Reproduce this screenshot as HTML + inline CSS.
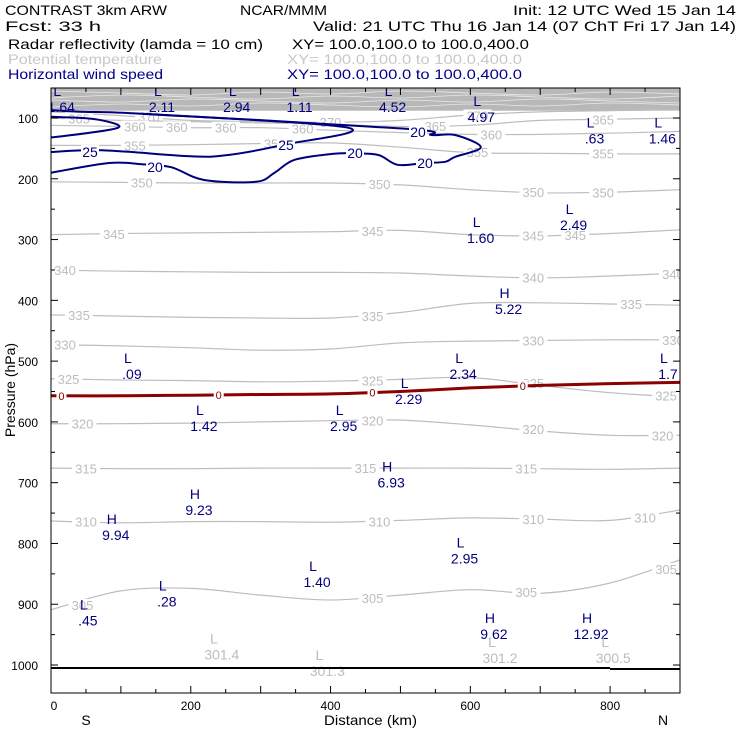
<!DOCTYPE html>
<html><head><meta charset="utf-8"><style>
html,body{margin:0;padding:0;background:#fff;width:740px;height:740px;overflow:hidden}
svg text{font-family:"Liberation Sans",sans-serif}
</style></head><body>
<svg id="c" width="740" height="740" viewBox="0 0 740 740" xmlns="http://www.w3.org/2000/svg">
<g font-size="14" lengthAdjust="spacingAndGlyphs">
<text x="5" y="15" textLength="162" lengthAdjust="spacingAndGlyphs">CONTRAST  3km ARW</text>
<text x="240" y="15" textLength="87" lengthAdjust="spacingAndGlyphs">NCAR/MMM</text>
<text x="513" y="15" textLength="223" lengthAdjust="spacingAndGlyphs">Init: 12 UTC Wed 15 Jan 14</text>
<text x="5" y="31" textLength="96" lengthAdjust="spacingAndGlyphs">Fcst:    33 h</text>
<text x="313" y="31" textLength="423" lengthAdjust="spacingAndGlyphs">Valid: 21 UTC Thu 16 Jan 14 (07 ChT Fri 17 Jan 14)</text>
<text x="8" y="49" textLength="255" lengthAdjust="spacingAndGlyphs">Radar reflectivity (lamda = 10 cm)</text>
<text x="292" y="49" textLength="237" lengthAdjust="spacingAndGlyphs">XY= 100.0,100.0 to 100.0,400.0</text>
<text x="8" y="64" textLength="154" lengthAdjust="spacingAndGlyphs" fill="#c8c8c8">Potential temperature</text>
<text x="287" y="64" textLength="235" lengthAdjust="spacingAndGlyphs" fill="#c8c8c8">XY= 100.0,100.0 to 100.0,400.0</text>
<text x="8" y="79" textLength="155" lengthAdjust="spacingAndGlyphs" fill="#00008b">Horizontal wind speed</text>
<text x="287" y="79" textLength="235" lengthAdjust="spacingAndGlyphs" fill="#00008b">XY= 100.0,100.0 to 100.0,400.0</text>
</g>
<defs><clipPath id="pc"><rect x="51" y="88" width="629" height="605"/></clipPath></defs>
<g id="plot" clip-path="url(#pc)"></g>
<g id="axes"></g>
</svg>
<script>
const dists=[0,100,200,300,400,500,600,700,800,900];
const thetaLevels=[370,365,360,355,350,345,340,335,330,325,320,315,310,305];
const th370=[90,96,104,106,107,104,95,90,88,86];
const th365=[100,104,106,108,110,114,112,104,102,100];
const th360=[112,114,116,116,120,124,127,127,125,122];
const th355=[145,145,144,142,141,148,157,158,159,159];
const th350=[205,206,207,207,207,210,218,223,222,218];
const th345=[292,290,289,288,287,285,292,294,290,284];
const th340=[350,352,353,354,354,355,360,363,360,355];
const th335=[424,426,428,429,429,420,405,404,406,408];
const th330=[473,475,478,482,480,470,467,466,465,465];
const th325=[529,531,532,534,533,530,527,540,552,559];
const th320=[603,603,602,600,598,597,605,615,622,622];
const th315=[676,677,677,676,676,676,676,677,678,676];
const th310=[763,766,764,764,765,762,758,760,762,745];
const th305=[909,878,874,885,893,885,876,882,865,827];
const thetaRows=[th370,th365,th360,th355,th350,th345,th340,th335,th330,th325,th320,th315,th310,th305];
const reflect0=[557,557,556,555,554,550,544,540,537,535];
const wind20Km=[0,83,130,172,219,293,320,348,402,435,469,496,534,564,578,615,578,544,511,130,49,0];
const wind20P=[190,174,176,181,202,205,190,169,159,158,161,177,174,172,164,148,128,128,118,93,90,87];
const wind25Km=[0,73,199,252,333,425,130];
const wind25P=[156,153,163,161,144,116,93];
const wind25bKm=[0,63,96,9,0];
const wind25bP=[98,102,116,131,131];
const yTicks=[100,200,300,400,500,600,700,800,900,1000];
const xTicks=[0,200,400,600,800];
const windExtType=["L","L","L","L","L","L","L","L","L","L","H","L","L","L","L","L","L","H","H","H","L","L","L","L","H","H"];
const windExtKm=[9,153,260,350,483,610,772,869,609,742,649,110,584,877,213,413,506,481,206,87,586,375,160,47,628,767];
const windExtP=[64,64,64,64,64,80,116,116,279,258,396,503,503,503,589,589,544,682,727,768,807,845,877,909,931,931];
const windExtVal=["1.64","2.11","2.94","1.11","4.52","4.97",".63","1.46","1.60","2.49","5.22",".09","2.34","1.7","1.42","2.95","2.29","6.93","9.23","9.94","2.95","1.40",".28",".45","9.62","12.92"];
const thExtKm=[233,384,631,793];
const thExtP=[965,992,970,970];
const thExtVal=["301.4","301.3","301.2","300.5"];

const NS="http://www.w3.org/2000/svg";
const X0=51,X1=680;
const xs=k=>X0+k*(X1-X0)/900;
const ys=p=>118+(p-100)*0.6078;
const plot=document.getElementById('plot'),axes=document.getElementById('axes');
function mk(tag,attrs,parent){const e=document.createElementNS(NS,tag);for(const k in attrs)e.setAttribute(k,attrs[k]);parent.appendChild(e);return e;}
function smooth(pts){let d="M"+pts[0][0]+","+pts[0][1];for(let i=0;i<pts.length-1;i++){const p0=pts[Math.max(0,i-1)],p1=pts[i],p2=pts[i+1],p3=pts[Math.min(pts.length-1,i+2)];const c1=[p1[0]+(p2[0]-p0[0])/6,p1[1]+(p2[1]-p0[1])/6],c2=[p2[0]-(p3[0]-p1[0])/6,p2[1]-(p3[1]-p1[1])/6];d+=" C"+c1[0].toFixed(1)+","+c1[1].toFixed(1)+" "+c2[0].toFixed(1)+","+c2[1].toFixed(1)+" "+p2[0].toFixed(1)+","+p2[1].toFixed(1);}return d;}
function interp(arr,k){const i=Math.min(8,Math.floor(k/100));const t=(k-dists[i])/100;return arr[i]+(arr[i+1]-arr[i])*t;}

const band=mk('rect',{x:51,y:88,width:629,height:ys(88)-88,fill:'#b8b8b8'},plot);


for(let i=0;i<4;i++){const l=mk('path',{d:smooth(dists.map((k,j)=>[xs(k),93+i*4+((j*7+i*3)%5)-2])),fill:'none',stroke:'#e8e8e8','stroke-width':0.8},plot);

}

const labKm=[[120,380,590],[20,530,770],[100,160,230,340,610],[100,300,590,770],[110,450,670,770],[70,440,670,730],[0,670,870],[20,440,810],[0,670,870],[5,440,670,860],[25,440,670,855],[30,430,660],[30,450,670,830],[25,440,660,860]];
thetaRows.forEach((row,r)=>{
  const pts=dists.map((k,i)=>[xs(k),ys(row[i])]);
  const l=mk('path',{d:smooth(pts),fill:'none',stroke:'#bdbdbd','stroke-width':1.2},plot);
  
  
  labKm[r].forEach(k=>{
    const x=xs(k)+14,y=ys(interp(row,k));
    const bg=mk('rect',{x:x-14,y:y-6,width:28,height:12,fill:'#fff'},plot);
    
    
    const t=mk('text',{x:x,y:y+5,'text-anchor':'middle','font-size':13,fill:'#bdbdbd'},plot);
    t.textContent=thetaLevels[r];
    
    
  });
});

const rl=mk('path',{d:smooth(dists.map((k,i)=>[xs(k),ys(reflect0[i])])),fill:'none',stroke:'#8b0000','stroke-width':3},plot);


[15,240,460,675].forEach(k=>{const x=xs(k),y=ys(interp(reflect0,k));
 const bg=mk('rect',{x:x-5,y:y-6,width:10,height:12,fill:'#fff'},plot);
 
 
 const t=mk('text',{x:x,y:y+4,'text-anchor':'middle','font-size':11,fill:'#8b0000'},plot);
 t.textContent='0';
 
 });

function windLine(km,p,name){const pts=km.map((k,i)=>[xs(k),ys(p[i])]);const l=mk('path',{d:smooth(pts),fill:'none',stroke:'#00007f','stroke-width':2},plot);

}
windLine(wind20Km,wind20P,'wind-20-contour');
windLine(wind25Km,wind25P,'wind-25-contour');
windLine(wind25bKm,wind25bP,'wind-25-contour-small');
[[155,167,'20'],[355,153,'20'],[425,163,'20'],[418,132,'20'],[90,152,'25'],[286,145,'25']].forEach(a=>{
 const bg=mk('rect',{x:a[0]-9,y:a[1]-7,width:18,height:14,fill:'#fff'},plot);
 
 
 const t=mk('text',{x:a[0],y:a[1]+5,'text-anchor':'middle','font-size':14,fill:'#00007f'},plot);
 t.textContent=a[2];
 
 });

windExtType.forEach((tp,i)=>{const x=xs(windExtKm[i]),y=ys(windExtP[i]);
 const a=mk('text',{x:x,y:y,'text-anchor':'middle','font-size':14,fill:'#00007f'},plot);a.textContent=tp;
 
 
 const b=mk('text',{x:x+4,y:y+16,'text-anchor':'middle','font-size':14,fill:'#00007f'},plot);b.textContent=windExtVal[i];
 
 });
thExtKm.forEach((k,i)=>{const x=xs(k),y=ys(thExtP[i]);
 const a=mk('text',{x:x,y:y,'text-anchor':'middle','font-size':14,fill:'#bdbdbd'},plot);a.textContent='L';
 
 
 const b=mk('text',{x:x+8,y:y+16,'text-anchor':'middle','font-size':14,fill:'#bdbdbd'},plot);b.textContent=thExtVal[i];
 
 });

const g1=mk('line',{x1:51,y1:668,x2:610,y2:668,stroke:'#000','stroke-width':2},plot);


const g2=mk('line',{x1:610,y1:669,x2:680,y2:669,stroke:'#000','stroke-width':2},plot);



const fr=mk('rect',{x:51,y:88,width:629,height:605,fill:'none',stroke:'#000','stroke-width':1},axes);


for(let p=100;p<=1050;p+=50){const y=ys(p);if(y>693)break;
 const a=mk('line',{x1:51,y1:y,x2:p%100?55:58,y2:y,stroke:'#000'},axes);
 
 
 const b=mk('line',{x1:680,y1:y,x2:p%100?676:673,y2:y,stroke:'#000'},axes);
 
 }
yTicks.forEach(p=>{const t=mk('text',{x:38,y:ys(p)+5,'text-anchor':'end','font-size':12},axes);t.textContent=p;
 
 });
for(let k=0;k<=900;k+=50){const x=xs(k);
 const a=mk('line',{x1:x,y1:693,x2:x,y2:k%100?689:686,stroke:'#000'},axes);
 
 
 const b=mk('line',{x1:x,y1:88,x2:x,y2:k%100?92:95,stroke:'#000'},axes);
 
 }
xTicks.forEach(k=>{const t=mk('text',{x:xs(k)+(k?0:3),y:710,'text-anchor':'middle','font-size':12},axes);t.textContent=k;
 
 });
const xt=mk('text',{x:324,y:725,'font-size':14,textLength:93,lengthAdjust:'spacingAndGlyphs'},axes);xt.textContent='Distance (km)';


const sL=mk('text',{x:86,y:725,'text-anchor':'middle','font-size':14},axes);sL.textContent='S';


const nL=mk('text',{x:663,y:725,'text-anchor':'middle','font-size':14},axes);nL.textContent='N';


const yt=mk('text',{x:0,y:0,'text-anchor':'middle','font-size':14,transform:'translate(15,390) rotate(-90)'},axes);yt.textContent='Pressure (hPa)';


</script>
</body></html>
